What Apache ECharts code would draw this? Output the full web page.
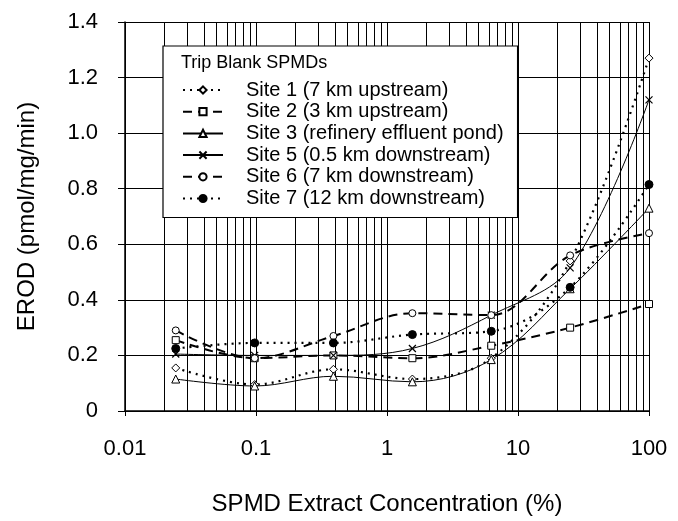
<!DOCTYPE html>
<html><head><meta charset="utf-8">
<script src="https://cdn.jsdelivr.net/npm/echarts@6/dist/echarts.min.js"></script>
<style>html,body{margin:0;padding:0;background:#fff}#c{width:678px;height:521px}</style>
</head><body><div id="c"></div>
<script>
// Data
var concentrations = [0.0244, 0.0977, 0.39, 1.5625, 6.25, 25, 100];
var site1 = [0.155, 0.095, 0.15, 0.115, 0.19, 0.54, 1.27];
var site2 = [0.255, 0.19, 0.20, 0.19, 0.235, 0.30, 0.385];
var site3 = [0.115, 0.09, 0.125, 0.105, 0.185, 0.44, 0.73];
var site5 = [0.205, 0.20, 0.20, 0.225, 0.345, 0.515, 1.12];
var site6 = [0.29, 0.19, 0.27, 0.352, 0.345, 0.56, 0.64];
var site7 = [0.225, 0.245, 0.245, 0.275, 0.287, 0.445, 0.815];
var seriesNames = ['Site 1 (7 km upstream)', 'Site 2 (3 km upstream)', 'Site 3 (refinery effluent pond)',
  'Site 5 (0.5 km downstream)', 'Site 6 (7 km downstream)', 'Site 7 (12 km downstream)'];
var legendTitle = 'Trip Blank SPMDs';
var yTicks = [0, 0.2, 0.4, 0.6, 0.8, 1.0, 1.2, 1.4];
var minorGridX = [];
[0.01, 0.1, 1, 10].forEach(function (d) { for (var m = 2; m <= 9; m++) minorGridX.push(+(d * m).toPrecision(3)); });

function pairs(vals) { return concentrations.map(function (c, i) { return [c, vals[i]]; }); }

var FONT = 'Liberation Sans, Arial, sans-serif';
var dotted = [2, 5], dashed = [9, 6];
var xPath = 'path://M0,0L10,10M10,0L0,10';

function mk(name, vals, symbol, fill, lineType, lineWidth, size) {
  return {
    name: name, type: 'line', data: pairs(vals), smooth: 0.35,
    symbol: symbol, symbolSize: size || 7,
    itemStyle: { color: fill, borderColor: '#000', borderWidth: 1 },
    lineStyle: { color: '#000', width: lineWidth, type: lineType },
    z: 3
  };
}

var series = [
  mk(seriesNames[0], site1, 'diamond', '#fff', dotted, 2.2, 8),
  mk(seriesNames[1], site2, 'rect', '#fff', dashed, 2, 7),
  mk(seriesNames[2], site3, 'triangle', '#fff', 'solid', 1, 8),
  mk(seriesNames[3], site5, xPath, 'none', 'solid', 1, 7),
  mk(seriesNames[4], site6, 'circle', '#fff', dashed, 2, 7),
  mk(seriesNames[5], site7, 'circle', '#000', dotted, 2.2, 8)
];
series[3].itemStyle.borderWidth = 1.2;
series[0].markLine = {
  silent: true, symbol: ['none', 'none'], label: { show: false },
  lineStyle: { color: '#000', type: 'solid', width: 1 },
  data: minorGridX.map(function (v) { return { xAxis: v }; }),
  animation: false, z: 1
};

var chart = echarts.init(document.getElementById('c'), null, { renderer: 'canvas' });
chart.setOption({
  animation: false,
  backgroundColor: '#fff',
  textStyle: { fontFamily: FONT },
  grid: { left: 125, right: 29, top: 22, bottom: 103 },
  title: {
    text: legendTitle, left: 181, top: 54, padding: 0,
    textStyle: { fontFamily: FONT, fontSize: 18, fontWeight: 'normal', color: '#000' }
  },
  legend: {
    orient: 'vertical', left: 163, top: 46,
    padding: [34, 14, 9, 19],
    itemWidth: 40, itemHeight: 9, itemGap: 1.7,
    backgroundColor: '#fff', borderColor: '#000', borderWidth: 1.2,
    textStyle: { fontFamily: FONT, fontSize: 20, lineHeight: 20, color: '#000', padding: [0, 0, 0, 18] },
    data: seriesNames
  },
  xAxis: {
    type: 'log', logBase: 10, min: 0.01, max: 100,
    name: 'SPMD Extract Concentration (%)', nameLocation: 'middle', nameGap: 81,
    nameTextStyle: { fontFamily: FONT, fontSize: 24, color: '#000' },
    axisLine: { lineStyle: { color: '#000', width: 1.5 } },
    axisTick: { show: true, length: 5, lineStyle: { color: '#000' } },
    axisLabel: { fontFamily: FONT, fontSize: 22, color: '#000', margin: 27,
      formatter: function (v) { return String(+v.toPrecision(3)); } },
    splitLine: { show: true, lineStyle: { color: '#000', width: 1 } }
  },
  yAxis: {
    type: 'value', min: 0, max: 1.4, interval: 0.2,
    name: 'EROD (pmol/mg/min)', nameLocation: 'middle', nameGap: 86,
    nameTextStyle: { fontFamily: FONT, fontSize: 24, color: '#000' },
    axisLine: { show: true, lineStyle: { color: '#000', width: 1.5 } },
    axisTick: { show: true, length: 7, lineStyle: { color: '#000' } },
    axisLabel: { fontFamily: FONT, fontSize: 22, color: '#000', margin: 27,
      formatter: function (v) { return v === 0 ? '0' : v.toFixed(1); } },
    splitLine: { show: true, lineStyle: { color: '#000', width: 1.2 } }
  },
  series: series
});
</script></body></html>
